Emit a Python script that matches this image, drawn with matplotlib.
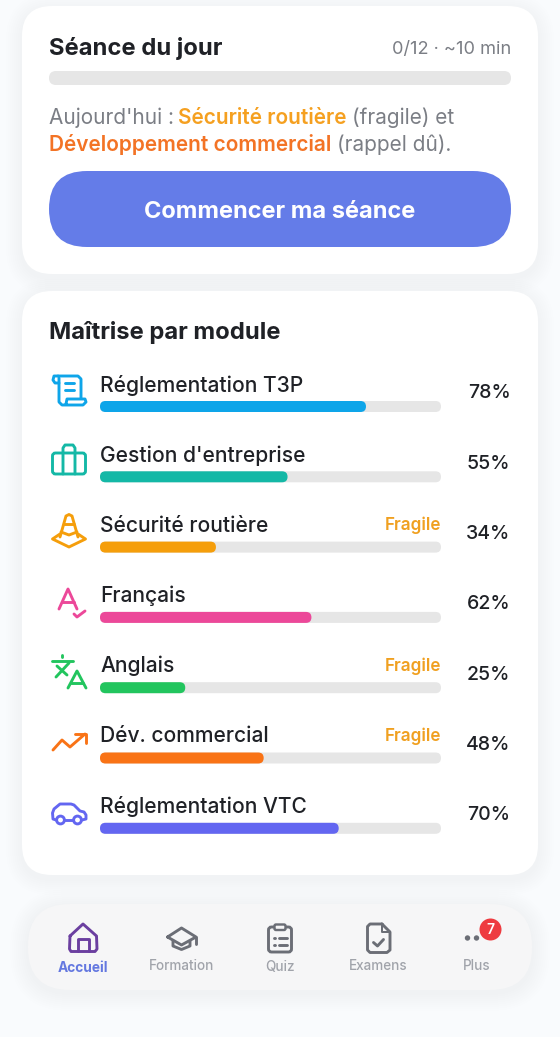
import matplotlib
matplotlib.use("Agg")
import matplotlib.pyplot as plt
from matplotlib.patches import FancyBboxPatch, Circle

plt.rcParams["font.family"] = ["Inter", "DejaVu Sans"]

# ---- data
MODULES = ["Réglementation T3P", "Gestion d'entreprise", "Sécurité routière", "Français",
           "Anglais", "Dév. commercial", "Réglementation VTC"]
MASTERY = [78, 55, 34, 62, 25, 48, 70]
COLORS = ["#0ea5e9", "#14b8a6", "#f59e0b", "#ec4899", "#22c55e", "#f97316", "#6366f1"]
FRAGILE = [False, False, True, False, True, True, False]
NAV_LABELS = ["Accueil", "Formation", "Quiz", "Examens", "Plus"]
NAV_X = [83, 181.5, 280, 378.5, 477]
SESSION_DONE = 0
SESSION_TOTAL = 12

INK = "#1f2126"
GREY = "#7b7e85"
TRACK = "#e6e6e6"
NAV_GREY = "#6b6e76"
PX = 0.72  # px -> pt at dpi 100

fig = plt.figure(figsize=(5.6, 10.37), dpi=100, facecolor="#f9fbfd")
ax = fig.add_axes([0, 0, 1, 1])
ax.set_xlim(0, 560)
ax.set_ylim(1037, 0)
ax.axis("off")


def rbox(x0, y0, x1, y1, r, color, alpha=1.0, z=2):
    p = FancyBboxPatch((x0, y0), x1 - x0, y1 - y0, boxstyle=f"round,pad=0,rounding_size={r}",
                       fc=color, ec="none", alpha=alpha, zorder=z)
    ax.add_patch(p)


def shadow(x0, y0, x1, y1, r, color="#8a90a0", strength=0.003, spread=16, dy=4):
    for i in range(spread, 0, -2):
        rbox(x0 - i, y0 - i + dy, x1 + i, y1 + i + dy, r + i, color, strength, z=1)


def stroke(pts, color, lw=2.9, z=4):
    xs, ys = zip(*pts)
    ax.plot(xs, ys, color=color, lw=lw * PX, solid_capstyle="round", solid_joinstyle="round", zorder=z)


def obox(x0, y0, x1, y1, r, color, lw=2.9, z=4):
    ax.add_patch(FancyBboxPatch((x0, y0), x1 - x0, y1 - y0, boxstyle=f"round,pad=0,rounding_size={r}",
                                fc="none", ec=color, lw=lw * PX, zorder=z))


def label(x, y, s, px, color, weight="normal", ha="left", z=5):
    return ax.text(x, y, s, fontsize=px * PX, color=color, fontweight=weight, ha=ha, va="center_baseline", zorder=z)


def run_text(x, y, parts, px):
    # morceaux de couleurs differentes sur une meme ligne
    r = fig.canvas.get_renderer()
    for s, color, weight, gap in parts:
        t = label(x, y, s, px, color, weight)
        x = t.get_window_extent(r).x1 + gap


# ---- cartes
shadow(22, 6, 538, 274, 30)
rbox(22, 6, 538, 274, 30, "white")
shadow(22, 291, 538, 875, 30)
rbox(22, 291, 538, 875, 30, "white")

# ---- seance du jour
label(49, 46.5, "Séance du jour", 23.8, INK, "bold")
label(511, 47, f"{SESSION_DONE}/{SESSION_TOTAL} · ~10 min", 18.2, GREY, ha="right")
rbox(49, 71, 511, 85, 7, TRACK)
run_text(49, 115.5, [("Aujourd'hui :", GREY, "normal", 4), ("Sécurité routière", "#f5a020", "semibold", 6),
                     ("(fragile) et", GREY, "normal", 0)], 20.8)
run_text(49, 142.5, [("Développement commercial", "#f37325", "semibold", 6),
                     ("(rappel dû).", GREY, "normal", 0)], 20.8)
rbox(49, 171, 511, 247, 38, "#647ce8")
label(280, 209, "Commencer ma séance", 23.6, "white", "bold", ha="center")

# ---- maitrise par module
label(49, 330.5, "Maîtrise par module", 23.8, INK, "bold")
TRACK_X0, TRACK_W = 100, 341
for i, (name, val, col, frag) in enumerate(zip(MODULES, MASTERY, COLORS, FRAGILE)):
    yc = 406.5 + i * 70.3
    label(100, yc - 23.5, name, 21, INK, "medium")
    rbox(TRACK_X0, yc - 5.5, TRACK_X0 + TRACK_W, yc + 5.5, 5.5, TRACK)
    rbox(TRACK_X0, yc - 5.5, TRACK_X0 + TRACK_W * val / 100, yc + 5.5, 5.5, col, z=3)
    label(510.5, yc - 15, f"{val}%", 19.5, INK, "medium", ha="right")
    if frag:
        label(441, yc - 23.5, "Fragile", 17.1, "#f0a020", "semibold", ha="right")

# icones des modules
c = COLORS[0]
stroke([(58, 376), (78, 376), (81, 379), (81, 398)], c)
stroke([(58, 376), (54, 376), (53, 380), (55, 383), (59, 383)], c)
stroke([(59, 378), (59, 402), (62, 405), (83, 405), (86, 402), (85, 399), (67, 399), (66, 404)], c)
stroke([(65, 383), (74, 383)], c)
stroke([(65, 390), (74, 390)], c)
c = COLORS[1]
obox(52.5, 453, 85.5, 474, 3, c)
stroke([(63, 474), (63, 448), (65, 445), (73, 445), (75, 448), (75, 474)], c)
c = COLORS[2]
stroke([(60, 537), (66, 516), (69, 514.5), (72, 516), (78, 537)], c)
stroke([(60, 534), (52.5, 539), (69, 547), (85.5, 539), (78, 534)], c)
stroke([(64, 524), (74, 524)], c)
stroke([(61, 532), (69, 535), (77, 532)], c)
c = COLORS[3]
stroke([(59, 609), (68, 589), (77, 609)], c)
stroke([(62, 602), (74, 602)], c)
stroke([(74, 614), (77, 617), (85, 611)], c)
c = COLORS[4]
stroke([(52, 661), (73, 661)], c)
stroke([(62, 655), (62, 657)], c)
stroke([(57, 666), (67, 675)], c)
stroke([(69, 663), (56, 677)], c)
stroke([(68, 688), (77, 671), (86, 688)], c)
stroke([(71, 683), (83, 683)], c)
c = COLORS[5]
stroke([(53, 750), (62, 740), (70, 747), (85, 734)], c)
stroke([(75, 733.5), (86, 733.5), (86, 743)], c)
c = COLORS[6]
stroke([(56, 820), (53, 819), (52.5, 813), (54, 809), (60, 804), (71, 804), (74, 805), (80, 811),
        (84, 812), (86, 815), (86, 819), (82, 820)], c)
stroke([(65, 820), (73, 820)], c)
ax.add_patch(Circle((60.5, 820), 3.9, fc="white", ec=c, lw=2.9 * PX, zorder=4))
ax.add_patch(Circle((77.5, 820), 3.9, fc="white", ec=c, lw=2.9 * PX, zorder=4))

# ---- barre de navigation
shadow(28, 904, 532, 990, 42, strength=0.005, spread=18, dy=3)
rbox(28, 904, 532, 990, 42, "#f6f6f7")
for i, (name, x) in enumerate(zip(NAV_LABELS, NAV_X)):
    if i == 0:
        label(x, 966, name, 13.8, "#6478e0", "bold", ha="center")
    else:
        label(x, 965, name, 13.5, "#a0a3aa", "medium", ha="center")

c = "#6b3fa0"
stroke([(70, 936), (83, 924), (96.5, 936), (97, 949), (95, 951.5), (71, 951.5), (69.5, 949), (70, 936)], c)
stroke([(77.5, 951), (77.5, 939), (88.5, 939), (88.5, 951)], c)
c = NAV_GREY
stroke([(167.5, 937), (181.5, 928), (196, 937), (181.5, 945), (167.5, 937)], c)
stroke([(173, 941), (173, 946), (181.5, 949.5), (190, 946), (190, 941)], c)
stroke([(196, 937), (196, 944)], c)
obox(268.5, 927, 291.5, 952, 3, c)
rbox(274.5, 924, 285.5, 930, 2, "#f6f6f7", z=4)
obox(274.5, 924.5, 285.5, 930, 1.5, c, lw=2.4)
for y in (938, 945):
    stroke([(273.5, y), (274.5, y)], c)
    stroke([(279, y), (287, y)], c)
stroke([(382, 924), (370, 924), (367.5, 926.5), (367.5, 950), (370, 952.5), (387, 952.5),
        (390, 950), (390, 932), (382, 924)], c)
stroke([(382, 924), (382, 932), (390, 932)], c, lw=2)
stroke([(373.5, 942.5), (377.5, 946), (383.5, 939.5)], c)
ax.add_patch(Circle((467.5, 938), 2.7, fc=c, ec="none", zorder=4))
ax.add_patch(Circle((476.5, 938), 2.7, fc=c, ec="none", zorder=4))
ax.add_patch(Circle((490.5, 929.5), 11, fc="#ee3b40", ec="none", zorder=5))
stroke([(487, 938), (494, 938)], "#e8c23a", lw=2, z=4)
label(490.5, 929, "7", 14, "white", "semibold", ha="center", z=6)

fig.savefig("out.png", dpi=100, facecolor=fig.get_facecolor())
